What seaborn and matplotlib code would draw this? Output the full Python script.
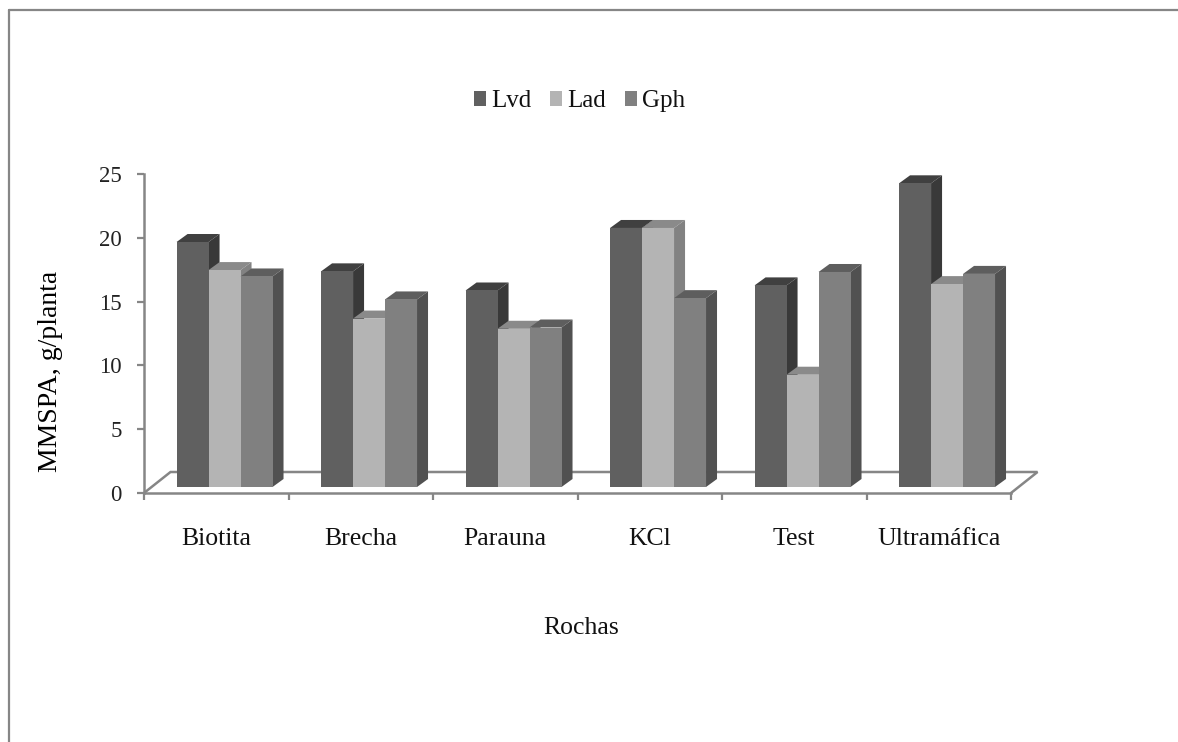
import matplotlib
matplotlib.use('Agg')
import matplotlib.pyplot as plt
from matplotlib.lines import Line2D
from matplotlib.patches import Patch, Polygon
import pandas as pd
import seaborn as sns

rochas = ['Biotita', 'Brecha', 'Parauna', 'KCl', 'Test', 'Ultramáfica']
lvd = [19.2, 16.9, 15.4, 20.3, 15.8, 23.8]
lad = [17.0, 13.2, 12.4, 20.3, 8.8, 15.9]
gph = [16.5, 14.7, 12.5, 14.8, 16.85, 16.7]
series = ['Lvd', 'Lad', 'Gph']
y_ticks = [0, 5, 10, 15, 20, 25]

# front, top, side
shades = {'Lvd': ('#606060', '#404040', '#393939'),
          'Lad': ('#b4b4b4', '#8a8a8a', '#828282'),
          'Gph': ('#808080', '#5e5e5e', '#515151')}
grey = '#868686'

W, H = 1178, 742
sns.set_theme(style='white')
plt.rcParams['font.family'] = ['Liberation Serif', 'DejaVu Serif']

df = pd.DataFrame({'Rochas': rochas, 'Lvd': lvd, 'Lad': lad, 'Gph': gph})
df = df.melt(id_vars='Rochas', var_name='Serie', value_name='MMSPA')

fig = plt.figure(figsize=(W / 100, H / 100), dpi=100, facecolor='white')

def px_axes(x0, x1, y_top, y_bottom):
    return fig.add_axes([x0 / W, 1 - y_bottom / H, (x1 - x0) / W, (y_bottom - y_top) / H])

# outer chart frame, only top and left show
fig.add_artist(Line2D([9 / W, 9 / W], [0, 1 - 10 / H], color=grey, lw=1.6))
fig.add_artist(Line2D([9 / W, 1], [1 - 10 / H, 1 - 10 / H], color=grey, lw=1.6))

# front plane: axis lines and labels
ax = px_axes(144, 1011, 174, 493)
ax.set_xlim(-0.5, 5.5)
ax.set_ylim(0, 25)
ax.set_facecolor('none')
ax.set_xticks([i - 0.5 for i in range(7)], [])
ax.set_xticks(range(6), rochas, minor=True)
ax.set_yticks(y_ticks)
ax.tick_params(axis='x', which='major', length=5, width=1.6, color=grey, bottom=True)
ax.tick_params(axis='x', which='minor', length=0, pad=25, labelsize=18.5, labelcolor='#111111')
ax.tick_params(axis='y', length=5, width=1.6, color=grey, left=True, pad=11,
               labelsize=16.5, labelcolor='#222222')
for side in ['top', 'right']:
    ax.spines[side].set_visible(False)
for side in ['left', 'bottom']:
    ax.spines[side].set_color(grey)
    ax.spines[side].set_linewidth(1.8)
ax.set_xlabel('Rochas', fontsize=18.5, labelpad=48.5, color='#111111', x=0.504)
ax.set_ylabel('MMSPA, g/planta', fontsize=20, labelpad=26, color='black', y=0.38)

# floor of the 3D box, behind the bars
floor_dx = 26.5 / 144.5
floor_dy = 21 / 12.76
ax.plot([-0.5, -0.5 + floor_dx, 5.5 + floor_dx, 5.5],
        [0, floor_dy, floor_dy, 0],
        color=grey, lw=1.8, clip_on=False, zorder=1, solid_joinstyle='miter')

# bar plane sits a bit behind the axis plane
bx = px_axes(152.3, 1019.3, 168, 487)
bx.set_facecolor('none')
sns.barplot(data=df, x='Rochas', y='MMSPA', hue='Serie', hue_order=series, order=rochas,
            palette={s: shades[s][0] for s in series}, width=0.664, gap=0, saturation=1,
            errorbar=None, legend=False, ax=bx)
bx.set_xlim(-0.5, 5.5)
bx.set_ylim(0, 25)
bx.axis('off')

# side and top faces, worked out from each bar
depth_x = 11 / 144.5
depth_y = 8 / 12.76
bars = [p for p in bx.patches if p.get_width() > 0]
bars.sort(key=lambda p: p.get_x())
face_list = [shades[s] for s in series]
for i, p in enumerate(bars):
    x0, w, h = p.get_x(), p.get_width(), p.get_height()
    front, top, side = face_list[i % 3]
    z = 3 + i * 0.01
    bx.add_patch(Polygon([(x0, h), (x0 + depth_x, h + depth_y), (x0 + w + depth_x, h + depth_y), (x0 + w, h)],
                         closed=True, facecolor=top, edgecolor='none', zorder=z, clip_on=False))
    bx.add_patch(Polygon([(x0 + w, 0), (x0 + w + depth_x, depth_y), (x0 + w + depth_x, h + depth_y), (x0 + w, h)],
                         closed=True, facecolor=side, edgecolor='none', zorder=z, clip_on=False))
    p.set_zorder(z + 0.001)
    p.set_edgecolor('none')

handles = [Patch(facecolor=shades[s][0], edgecolor='none', label=s) for s in series]
fig.legend(handles=handles, loc='center', bbox_to_anchor=(579.5 / W, 1 - 101 / H), ncol=3, frameon=False,
           fontsize=18, handlelength=0.48, handleheight=0.55, handletextpad=0.2, columnspacing=0.75,
           labelcolor='#111111')

fig.savefig('out.png', dpi=100, facecolor='white')
